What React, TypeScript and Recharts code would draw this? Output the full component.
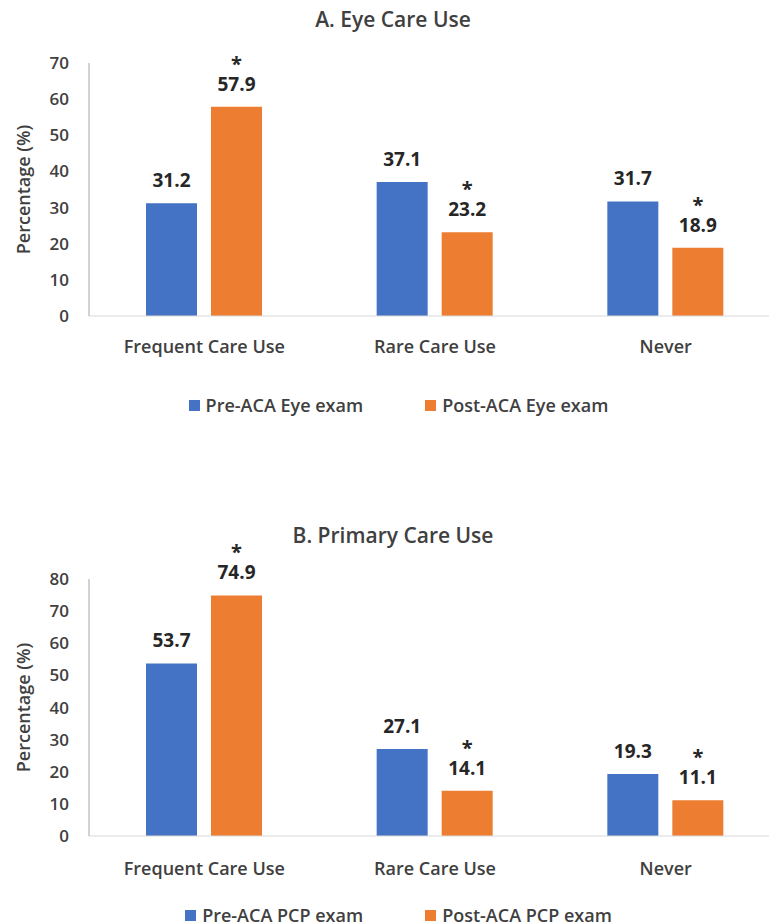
import React from "react";
import { BarChart, Bar, XAxis, YAxis, Legend, LabelList } from "recharts";

const categories = ["Frequent Care Use", "Rare Care Use", "Never"];

const eyePre = [31.2, 37.1, 31.7];
const eyePost = [57.9, 23.2, 18.9];
const eyePostStar = [true, true, true];
const eyeTicks = [0, 10, 20, 30, 40, 50, 60, 70];

const pcpPre = [53.7, 27.1, 19.3];
const pcpPost = [74.9, 14.1, 11.1];
const pcpPostStar = [true, true, true];
const pcpTicks = [0, 10, 20, 30, 40, 50, 60, 70, 80];

const BLUE = "#4472C4";
const ORANGE = "#ED7D31";
const TEXT = "#404040";
const FONT = "'Open Sans', sans-serif";

const eyeData = categories.map((name, i) => ({ name, pre: eyePre[i], post: eyePost[i] }));
const pcpData = categories.map((name, i) => ({ name, pre: pcpPre[i], post: pcpPost[i] }));

const valueLabel = (stars: boolean[] | null) => (props: any) => {
    const { x, y, width, value, index } = props;
    const cx = Number(x) + Number(width) / 2;
    const base = Number(y) - 16;
    return <g>
        <text x={cx} y={base} textAnchor="middle" fontFamily={FONT} fontSize={19} fontWeight={700} fill="#262626">
            {Number(value).toFixed(1)}
        </text>
        {stars && stars[index] &&
            <text x={cx} y={base - 20} textAnchor="middle" fontFamily={FONT} fontSize={20} fontWeight={700} fill="#262626">*</text>}
    </g>
};

function LegendRow(props: { pre: string, post: string }) {
    const item = (color: string, text: string, gap: number) =>
        <div style={{ display: "flex", alignItems: "center", marginRight: gap }}>
            <div style={{ width: 11, height: 11, background: color, marginRight: 6 }} />
            <span>{text}</span>
        </div>
    return <div style={{
        display: "flex", justifyContent: "center", height: 24, lineHeight: "24px",
        fontFamily: FONT, fontSize: 18, fontWeight: 600, color: TEXT
    }}>
        {item(BLUE, props.pre, 62)}
        {item(ORANGE, props.post, 0)}
    </div>
}

interface PanelProps {
    title: string
    data: { name: string, pre: number, post: number }[]
    ticks: number[]
    stars: boolean[]
    top: number
    height: number
    xHeight: number
    tickGap: number
    pre: string
    post: string
}

function Panel(props: PanelProps) {
    const { title, data, ticks, stars, top, height, xHeight, tickGap, pre, post } = props
    return <BarChart
        width={800}
        height={height}
        data={data}
        barSize={51}
        barGap={14}
        margin={{ top: top, right: 19, left: 0, bottom: 0 }}
    >
        <text x={393} y={top - 36} textAnchor="middle" fontFamily={FONT} fontSize={21} fontWeight={600} fill={TEXT}>
            {title}
        </text>
        <XAxis
            dataKey="name"
            height={xHeight}
            tickLine={false}
            tickSize={0}
            tickMargin={tickGap}
            stroke="#D9D9D9"
            tick={{ fill: TEXT, fontSize: 18, fontWeight: 600, fontFamily: FONT }}
        />
        <YAxis
            width={89}
            domain={[0, ticks[ticks.length - 1]]}
            ticks={ticks}
            interval={0}
            tickLine={false}
            tickSize={0}
            tickMargin={20}
            stroke="#A6A6A6"
            tick={{ fill: TEXT, fontSize: 17, fontWeight: 600, fontFamily: FONT }}
            label={{
                value: "Percentage (%)", angle: -90, position: "insideLeft", offset: 24,
                style: { textAnchor: "middle", fill: TEXT, fontSize: 18, fontWeight: 600, fontFamily: FONT }
            }}
        />
        <Legend
            verticalAlign="bottom"
            wrapperStyle={{ left: 0, width: 797 }}
            content={() => <LegendRow pre={pre} post={post} />}
        />
        <Bar dataKey="pre" name={pre} fill={BLUE} isAnimationActive={false}>
            <LabelList dataKey="pre" content={valueLabel(null)} />
        </Bar>
        <Bar dataKey="post" name={post} fill={ORANGE} isAnimationActive={false}>
            <LabelList dataKey="post" content={valueLabel(stars)} />
        </Bar>
    </BarChart>
}

export default function App() {
    return <div style={{
        position: "absolute", top: 0, left: 0, width: 769, height: 924,
        overflow: "hidden", background: "#fff"
    }}>
        <div style={{ position: "absolute", top: 0, left: 0 }}>
            <Panel title="A. Eye Care Use" data={eyeData} ticks={eyeTicks} stars={eyePostStar}
                top={63} height={417} xHeight={77} tickGap={24}
                pre="Pre-ACA Eye exam" post="Post-ACA Eye exam" />
        </div>
        <div style={{ position: "absolute", top: 520, left: 0 }}>
            <Panel title="B. Primary Care Use" data={pcpData} ticks={pcpTicks} stars={pcpPostStar}
                top={59} height={407} xHeight={67} tickGap={26}
                pre="Pre-ACA PCP exam" post="Post-ACA PCP exam" />
        </div>
    </div>
}
